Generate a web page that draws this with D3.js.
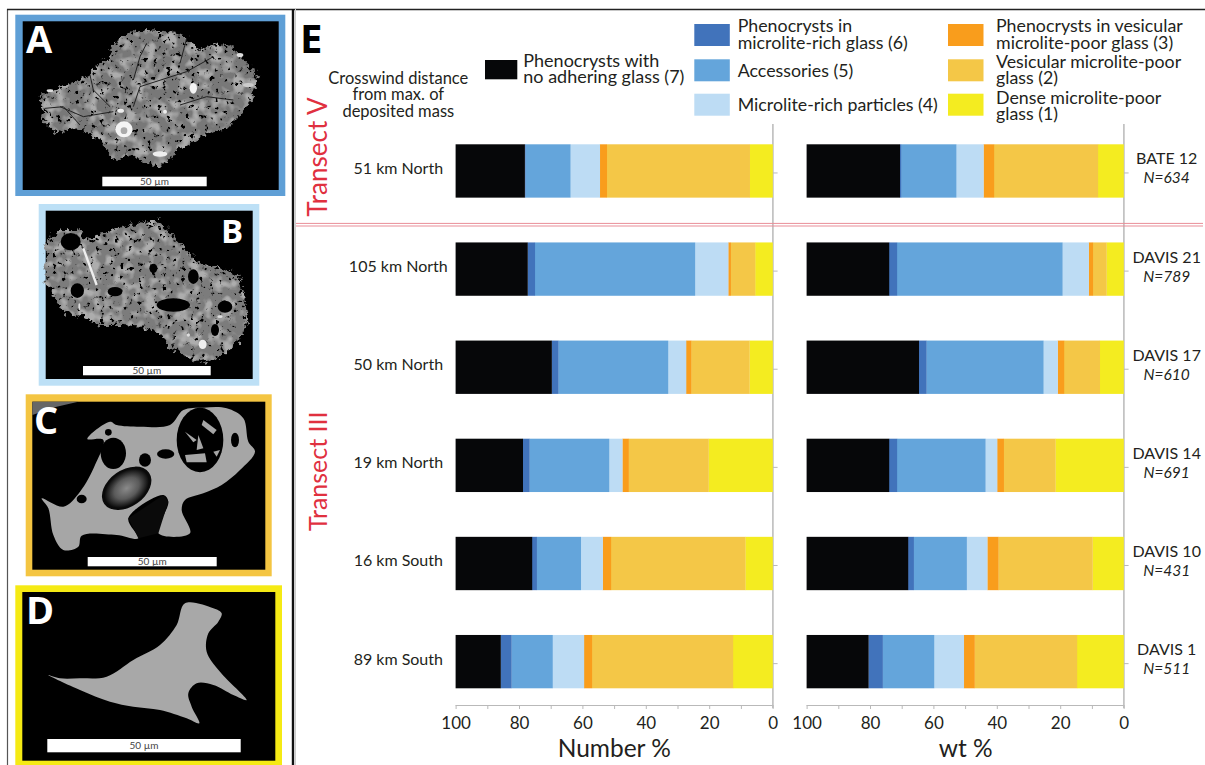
<!DOCTYPE html>
<html><head><meta charset="utf-8">
<script src="https://cdnjs.cloudflare.com/ajax/libs/d3/7.8.5/d3.min.js"></script>
<style>html,body{margin:0;padding:0;background:#fff}svg{display:block}text{font-family:Lato,"Open Sans",sans-serif;fill:#231f20}</style>
</head><body><div id="chart"></div>
<script>
// ---------- data (top to bottom: BATE 12, DAVIS 21, 17, 14, 10, 1) ----------
const distances = ["51 km North","105 km North","50 km North","19 km North","16 km South","89 km South"];
const samples   = ["BATE 12","DAVIS 21","DAVIS 17","DAVIS 14","DAVIS 10","DAVIS 1"];
const counts    = ["N=634","N=789","N=610","N=691","N=431","N=511"];
const classKeys = ["c7","c6","c5","c4","c3","c2","c1"];
const classColors = ["#060709","#4173bb","#64a5db","#bddcf4","#f99d1c","#f4c747","#f4ec20"];
const tickValues = [100,90,80,70,60,50,40,30,20,10,0];
const tickLabels = [100,80,60,40,20,0];

const numC7 = [21.8,22.7,30.3,21.2,24.1,14.2];
const numC6 = [0.2,2.3,2.1,2.1,1.5,3.4];
const numC5 = [14.2,50.5,34.6,25.1,13.9,13.0];
const numC4 = [9.3,10.5,5.7,4.2,6.9,9.9];
const numC3 = [2.2,0.8,1.6,2.0,2.6,2.5];
const numC2 = [45.1,7.7,18.4,25.2,42.4,44.5];
const numC1 = [7.2,5.5,7.3,20.2,8.6,12.5];

const wtC7 = [29.4,26.0,35.4,26.0,32.0,19.5];
const wtC6 = [0.4,2.5,2.4,2.5,1.8,4.5];
const wtC5 = [17.4,52.2,36.9,27.9,16.7,16.2];
const wtC4 = [8.6,8.3,4.5,3.7,6.5,9.4];
const wtC3 = [3.3,1.3,2.0,2.1,3.5,3.4];
const wtC2 = [32.8,4.3,11.3,16.3,29.7,32.3];
const wtC1 = [8.1,5.4,7.5,21.5,9.8,14.7];

const legendC7 = ["Phenocrysts with","no adhering glass (7)"];
const legendMid = [["Phenocrysts in","microlite-rich glass (6)"],["Accessories (5)"],["Microlite-rich particles (4)"]];
const legendEnd = [["Phenocrysts in vesicular","microlite-poor glass (3)"],["Vesicular microlite-poor","glass (2)"],["Dense microlite-poor","glass (1)"]];
const headerLines = ["Crosswind distance","from max. of","deposited mass"];

// ---------- frame ----------
const svg = d3.select("#chart").append("svg").attr("width",1205).attr("height",765);
svg.append("rect").attr("width",1205).attr("height",765).attr("fill","#fff");
const defs = svg.append("defs");
const tex = defs.append("filter").attr("id","sem").attr("x","-0.05").attr("y","-0.05").attr("width","1.1").attr("height","1.1");
tex.append("feTurbulence").attr("type","fractalNoise").attr("baseFrequency","0.07").attr("numOctaves",3).attr("seed",7).attr("result","n");
tex.append("feDisplacementMap").attr("in","SourceGraphic").attr("in2","n").attr("scale",34).attr("xChannelSelector","R").attr("yChannelSelector","G").attr("result","d");
tex.append("feTurbulence").attr("type","fractalNoise").attr("baseFrequency","0.03").attr("numOctaves",2).attr("seed",3).attr("result","n2");
tex.append("feColorMatrix").attr("in","n2").attr("type","matrix")
  .attr("values","0 0 0 0 1  0 0 0 0 1  0 0 0 0 1  4 0 0 0 -1.8").attr("result","lightRaw");
tex.append("feComponentTransfer").attr("in","lightRaw").attr("result","lightA").append("feFuncA").attr("type","linear").attr("slope",0.28);
tex.append("feComposite").attr("in","lightA").attr("in2","d").attr("operator","in").attr("result","light");
tex.append("feColorMatrix").attr("in","n").attr("type","matrix")
  .attr("values","0 0 0 0 0  0 0 0 0 0  0 0 0 0 0  0 9 0 0 -5.6").attr("result","pitsRaw");
tex.append("feComposite").attr("in","pitsRaw").attr("in2","d").attr("operator","in").attr("result","pits");
tex.append("feMerge").selectAll("feMergeNode").data(["d","light","pits"]).join("feMergeNode").attr("in",d=>d);
const soft = defs.append("filter").attr("id","soft");
soft.append("feGaussianBlur").attr("stdDeviation",0.45);
const vg = defs.append("radialGradient").attr("id","ves");
vg.append("stop").attr("offset","0").attr("stop-color","#8a8a8a");
vg.append("stop").attr("offset","0.5").attr("stop-color","#5a5a5a");
vg.append("stop").attr("offset","0.9").attr("stop-color","#0a0a0a");

// ---------- SEM micrograph panels A-D (decorative sketches) ----------
const smooth = d => {
  const pts = d.replace(/[MLZ]/g," ").trim().split(/\s+/).map(p=>p.split(",").map(Number));
  return d3.line().curve(d3.curveCatmullRomClosed.alpha(0.5))(pts);
};
function panel(o){
  svg.append("rect").attr("x",o.x0).attr("y",o.y0).attr("width",o.x1-o.x0).attr("height",o.y1-o.y0).attr("fill",o.color);
  svg.append("rect").attr("x",o.ix0).attr("y",o.iy0).attr("width",o.ix1-o.ix0).attr("height",o.iy1-o.iy0).attr("fill","#000");
  const g = svg.append("g").attr("transform",`translate(0,${o.oy}) scale(${1/3})`);
  o.draw(g);
  svg.append("rect").attr("x",o.bx0).attr("y",o.by0).attr("width",o.bx1-o.bx0).attr("height",o.by1-o.by0).attr("fill","#fff");
  svg.append("text").attr("x",(o.bx0+o.bx1)/2).attr("y",(o.by0+o.by1)/2+3.4).attr("text-anchor","middle")
    .attr("font-size",10).style("fill","#444").text("50 µm");
  svg.append("text").attr("x",o.lx).attr("y",o.ly).attr("font-size",o.ls||38).attr("font-weight",700).style("font-family","Open Sans").style("fill","#fff").text(o.letter);
}
const dark = (g,list)=>list.forEach(e=>g.append("ellipse").attr("cx",e[0]).attr("cy",e[1]).attr("rx",e[2]).attr("ry",e[3]).attr("fill",e[4]||"#000"));
panel({x0:15.3,x1:285.3,y0:14.7,y1:196,ix0:22.7,ix1:278.7,iy0:21.3,iy1:190,color:"#5f9fd6",oy:0,
  bx0:102.3,bx1:206.7,by0:176.7,by1:186.3,lx:26,ly:53,letter:"A",draw:g=>{
  g.append("path").attr("filter","url(#sem)").attr("fill","#787878").attr("d","M120,285 L170,265 L220,250 L270,225 L290,195 L330,170 L340,130 L380,100 L440,90 L520,95 L560,115 L600,150 L650,130 L700,140 L730,180 L775,225 L760,270 L760,300 L720,345 L680,385 L620,400 L570,430 L530,450 L490,500 L440,495 L400,465 L340,480 L310,430 L270,400 L220,385 L170,400 L130,360 Z");
  ["M135,325 L190,320 L240,375","M270,225 L280,270 L330,320","M400,240 L420,170 L440,130","M400,320 L420,260 L560,215 L640,170","M540,315 L620,290 L700,300","M180,320 L250,350 L340,335","M560,115 L540,190"]
    .forEach(d=>g.append("path").attr("d",d).attr("fill","none").attr("stroke","#222").attr("stroke-width",3));
  dark(g,[[372,388,26,24,"#f4f4f4"],[372,392,10,10,"#aaa"],[580,265,11,16,"#f4f4f4"],[480,462,22,8,"#eee"],[495,335,6,6,"#eee"],[362,332,10,6,"#eee"],[720,165,10,6,"#ddd"],[745,255,16,6,"#ccc"],[150,272,10,4,"#ddd"]]);
}});
panel({x0:38.7,x1:259.3,y0:204,y1:385.7,ix0:45.7,ix1:252.7,iy0:210.7,iy1:379,color:"#bde0f6",oy:0,
  bx0:83,bx1:210.7,by0:366,by1:375.3,lx:221,ly:243,letter:"B",ls:33,draw:g=>{
  g.append("path").attr("filter","url(#sem)").attr("fill","#7c7c7c").attr("d","M137,730 L180,690 L240,690 L260,720 L330,690 L365,680 L420,670 L470,660 L530,720 L600,790 L660,800 L720,830 L745,960 L720,1020 L650,1075 L590,1085 L510,1045 L480,1000 L430,980 L370,975 L300,975 L250,950 L190,935 L137,850 Z");
  dark(g,[[232,872,20,22],[345,875,22,14],[460,805,12,14],[520,915,50,20],[580,830,16,22],[675,920,22,18],[645,990,12,18],[212,725,30,26]]);
  g.append("path").attr("d","M250,745 L290,855").attr("stroke","#eee").attr("stroke-width",7);
  dark(g,[[608,1033,12,14,"#eee"],[565,1005,5,5,"#ddd"],[660,950,8,4,"#ddd"],[238,920,3,10,"#ddd"]]);
}});
panel({x0:25.7,x1:271.7,y0:394.3,y1:576.3,ix0:32.3,ix1:265.3,iy0:401.7,iy1:569.7,color:"#f4c542",oy:385,
  bx0:87.7,bx1:216.7,by0:557,by1:566.3,lx:34,ly:434,letter:"C",draw:g=>{
  g.append("path").attr("d","M97,50 L235,50 L170,65 L97,90 Z").attr("fill","#666");
  g.append("path").attr("fill","#a6a6a6").attr("d",smooth("M262,162 L330,110 L350,120 L420,125 L510,120 L550,75 L610,68 L680,70 L730,100 L745,170 L765,200 L720,255 L665,300 L610,325 L555,345 L545,375 L570,445 L475,445 L505,350 L490,330 L385,400 L415,460 L350,450 L245,452 L235,485 L190,495 L160,450 L145,370 L125,340 L190,365 L240,320 L285,240 L310,165"));
  dark(g,[[340,205,38,47],[245,342,15,13],[325,142,10,10],[497,207,26,14],[705,165,12,22],[435,225,18,20],[600,165,70,97]]);
  g.append("ellipse").attr("cx",380).attr("cy",310).attr("rx",82).attr("ry",55).attr("transform","rotate(-35 380 310)").attr("fill","url(#ves)");
  g.append("path").attr("d","M385,400 L490,330 L505,350 L475,445 L415,460 Z").attr("fill","#0a0a0a");
  ["M555,210 L615,205 L620,232 L560,232 Z","M610,105 L650,135 L640,148 L605,120 Z","M595,150 L610,190 L590,195 Z","M555,140 L590,165 L580,172 Z","M640,200 L660,195 L650,215 Z"]
    .forEach(d=>g.append("path").attr("d",d).attr("fill","#a6a6a6"));
}});
panel({x0:15.3,x1:282,y0:585.3,y1:765,ix0:22.3,ix1:275.3,iy0:592,iy1:760.7,color:"#f5ea14",oy:385,
  bx0:47.3,bx1:240.7,by0:739,by1:752.3,lx:26,ly:624,letter:"D",draw:g=>{
  g.append("path").attr("fill","#a8a8a8").attr("d",smooth("M145,870 L180,880 L240,880 L320,875 L400,825 L480,780 L530,720 L555,655 L640,670 L665,685 L655,710 L625,745 L620,800 L660,860 L740,945 L700,930 L640,900 L590,895 L565,925 L575,965 L598,1015 L560,1000 L480,975 L400,965 L330,950 L240,915"));
}});

svg.append("line").attr("x1",7.5).attr("x2",7.5).attr("y1",9).attr("y2",765).attr("stroke","#555").attr("stroke-width",1.2);
svg.append("line").attr("x1",7).attr("x2",1205).attr("y1",9.5).attr("y2",9.5).attr("stroke","#222").attr("stroke-width",1.5);
svg.append("line").attr("x1",293).attr("x2",293).attr("y1",9).attr("y2",765).attr("stroke","#111").attr("stroke-width",2.4);
svg.append("line").attr("x1",295.5).attr("x2",295.5).attr("y1",9).attr("y2",765).attr("stroke","#ccc").attr("stroke-width",1);

// ---------- chart ----------
const y = d3.scaleBand().domain(samples).range([144.3,688.3]).paddingInner(0.4565);
const stack = d3.stack().keys(classKeys.slice().reverse());
const rows = src => samples.map((s,i)=>{const r={sample:s};classKeys.forEach((k,j)=>r[k]=src[j][i]);return r;});
const color = d3.scaleOrdinal(classKeys,classColors);
const GREY="#b9b9b9";

function drawPanel(src,x0,x1,title,titleX){
  const x = d3.scaleLinear().domain([100,0]).range([x0,x1]);
  const g = svg.append("g");
  const ax = g.append("g").attr("transform","translate(0,705)")
    .call(d3.axisBottom(x).tickValues(tickValues).tickSize(4).tickPadding(6)
      .tickFormat(d=>tickLabels.includes(d)?d:""));
  ax.select(".domain").attr("stroke",GREY).attr("stroke-width",1.2).attr("d",`M${x0},0.5H${x1}`);
  ax.selectAll("line").attr("stroke",GREY).attr("stroke-width",1);
  ax.selectAll("text").attr("font-size",17).attr("y",9).attr("dy","0.9em").style("font-family","Lato").style("fill","#231f20");
  g.append("line").attr("x1",x1+.3).attr("x2",x1+.3).attr("y1",124).attr("y2",708).attr("stroke",GREY).attr("stroke-width",1.5);
  const ay = g.append("g").attr("transform",`translate(${x1},2)`).call(d3.axisRight(y).tickSize(5).tickFormat(""));
  ay.select(".domain").remove();
  ay.selectAll("line").attr("stroke",GREY).attr("stroke-width",1);
  g.selectAll("g.s").data(stack(rows(src))).join("g").attr("class","s").attr("fill",d=>color(d.key))
    .selectAll("rect").data(d=>d).join("rect")
    .attr("x",d=>x(d[1])).attr("width",d=>x(d[0])-x(d[1])+0.2)
    .attr("y",d=>y(d.data.sample)).attr("height",y.bandwidth());
  g.append("text").attr("x",titleX).attr("y",757.3).attr("text-anchor","middle").attr("font-size",24.5).text(title);
}
drawPanel([numC7,numC6,numC5,numC4,numC3,numC2,numC1],455.6,772.6,"Number %",614.3);
drawPanel([wtC7,wtC6,wtC5,wtC4,wtC3,wtC2,wtC1],806.6,1123.6,"wt %",965.7);

// labels either side
samples.forEach((s,i)=>{
  const c=y(s)+y.bandwidth()/2;
  svg.append("text").attr("x",398.3).attr("y",c+3).attr("text-anchor","middle").attr("font-size",16).text(distances[i]);
  svg.append("text").attr("x",1166.7).attr("y",c-6.5).attr("text-anchor","middle").attr("font-size",16).text(s);
  svg.append("text").attr("x",1166.7).attr("y",c+12.5).attr("text-anchor","middle").attr("font-size",15.5).attr("font-style","italic").text(counts[i]);
});

// separator
[223.4,226].forEach(v=>svg.append("line").attr("x1",296).attr("x2",1203).attr("y1",v).attr("y2",v).attr("stroke","#e98d98").attr("stroke-width",1));

// transect labels
[["Transect V",216.7,26],["Transect III",531,25]].forEach(t=>svg.append("text")
  .attr("transform",`translate(326.7,${t[1]}) rotate(-90)`).attr("font-size",t[2]).style("fill","#e0303f").text(t[0]));

svg.append("text").attr("x",300).attr("y",53).attr("font-size",40).attr("font-weight",700).style("font-family","Open Sans").style("fill","#000").text("E");

headerLines.forEach((t,i)=>svg.append("text").attr("x",398.3).attr("y",84+i*16.4).attr("text-anchor","middle").attr("font-size",16.5).text(t));

// legend
const swatchH=22, rowY=[24,59.3,93.7];
svg.append("rect").attr("x",485).attr("y",60).attr("width",32.3).attr("height",19.3).attr("fill",color("c7"));
legendC7.forEach((t,i)=>svg.append("text").attr("x",523.3).attr("y",67+i*16).attr("font-size",18).text(t));
const midKeys=["c6","c5","c4"], endKeys=["c3","c2","c1"];
const midBase=[[32.3,49.3],[76.7],[110.7]], endBase=[[32.3,49.3],[68.3,84.3],[103.7,120]];
function legendCol(keys,labels,bases,sx,tx){
  keys.forEach((k,i)=>{
    svg.append("rect").attr("x",sx).attr("y",rowY[i]).attr("width",35.5).attr("height",swatchH).attr("fill",color(k));
    labels[i].forEach((t,j)=>svg.append("text").attr("x",tx).attr("y",bases[i][j]).attr("font-size",17.8).text(t));
  });
}
legendCol(midKeys,legendMid,midBase,694.3,737.7);
legendCol(endKeys,legendEnd,endBase,948,996);
</script></body></html>
